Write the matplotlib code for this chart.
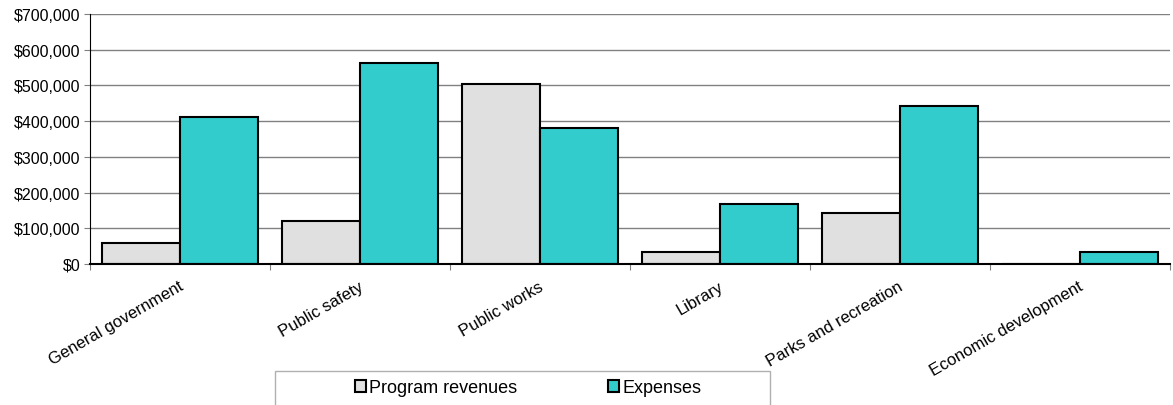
import numpy as np
import matplotlib
matplotlib.use('Agg')
import matplotlib.pyplot as plt
from matplotlib.patches import Rectangle
from matplotlib.ticker import FuncFormatter

plt.rcParams['font.family'] = ['Liberation Sans', 'DejaVu Sans']

# program revenues / expenses by function
categories = ['General government', 'Public safety', 'Public works',
              'Library', 'Parks and recreation', 'Economic development']
revenues = [58000, 120000, 504000, 34000, 143000, 0]
expenses = [412000, 563000, 381000, 168000, 442000, 34000]

grey = '#e0e0e0'
teal = '#33cccc'

fig = plt.figure(figsize=(11.73, 4.06), dpi=100)
ax = fig.add_axes([90/1173, 1 - 265/406, 1080/1173, 250/406])

x = np.arange(len(categories))
w = 0.435
ax.bar(x - w/2, revenues, w, color=grey, edgecolor='black', linewidth=1.5,
       label='Program revenues', zorder=3)
ax.bar(x + w/2, expenses, w, color=teal, edgecolor='black', linewidth=1.5,
       label='Expenses', zorder=3)

ax.set_xlim(-0.5, len(categories) - 0.5)
ax.set_ylim(0, 700000)
ax.set_yticks(np.arange(0, 700001, 100000))
ax.yaxis.set_major_formatter(FuncFormatter(lambda v, p: '${:,.0f}'.format(v)))
ax.yaxis.grid(True, color='#808080', linewidth=1)
ax.set_axisbelow(True)

for s in ['top', 'right']:
    ax.spines[s].set_visible(False)
ax.spines['left'].set_color('black')
ax.spines['bottom'].set_color('black')
ax.spines['bottom'].set_linewidth(1.5)
ax.spines['bottom'].set_zorder(4)

ax.tick_params(axis='y', length=4, color='#808080', labelsize=11.5, pad=3)
# ticks between categories, labels at centres
ax.set_xticks(np.arange(len(categories) + 1) - 0.5)
ax.set_xticklabels([])
ax.tick_params(axis='x', which='major', length=4, color='#808080')
for i, c in enumerate(categories):
    ax.text(i - 0.01, -40000, c, rotation=30, ha='right', va='top',
            rotation_mode='anchor', fontsize=12)

# legend box
fig.patches.append(Rectangle((275/1173, -0.1), 495/1173, 0.1 + 34/406,
                             transform=fig.transFigure, fill=False,
                             edgecolor='#b0b0b0', linewidth=1))
fig.legend(loc='center', bbox_to_anchor=(528/1173, 1 - 389/406), ncol=2,
           frameon=False, fontsize=13, handlelength=0.6, handleheight=0.6,
           handletextpad=0.2, columnspacing=5.0)

fig.savefig('out.png', dpi=100)
